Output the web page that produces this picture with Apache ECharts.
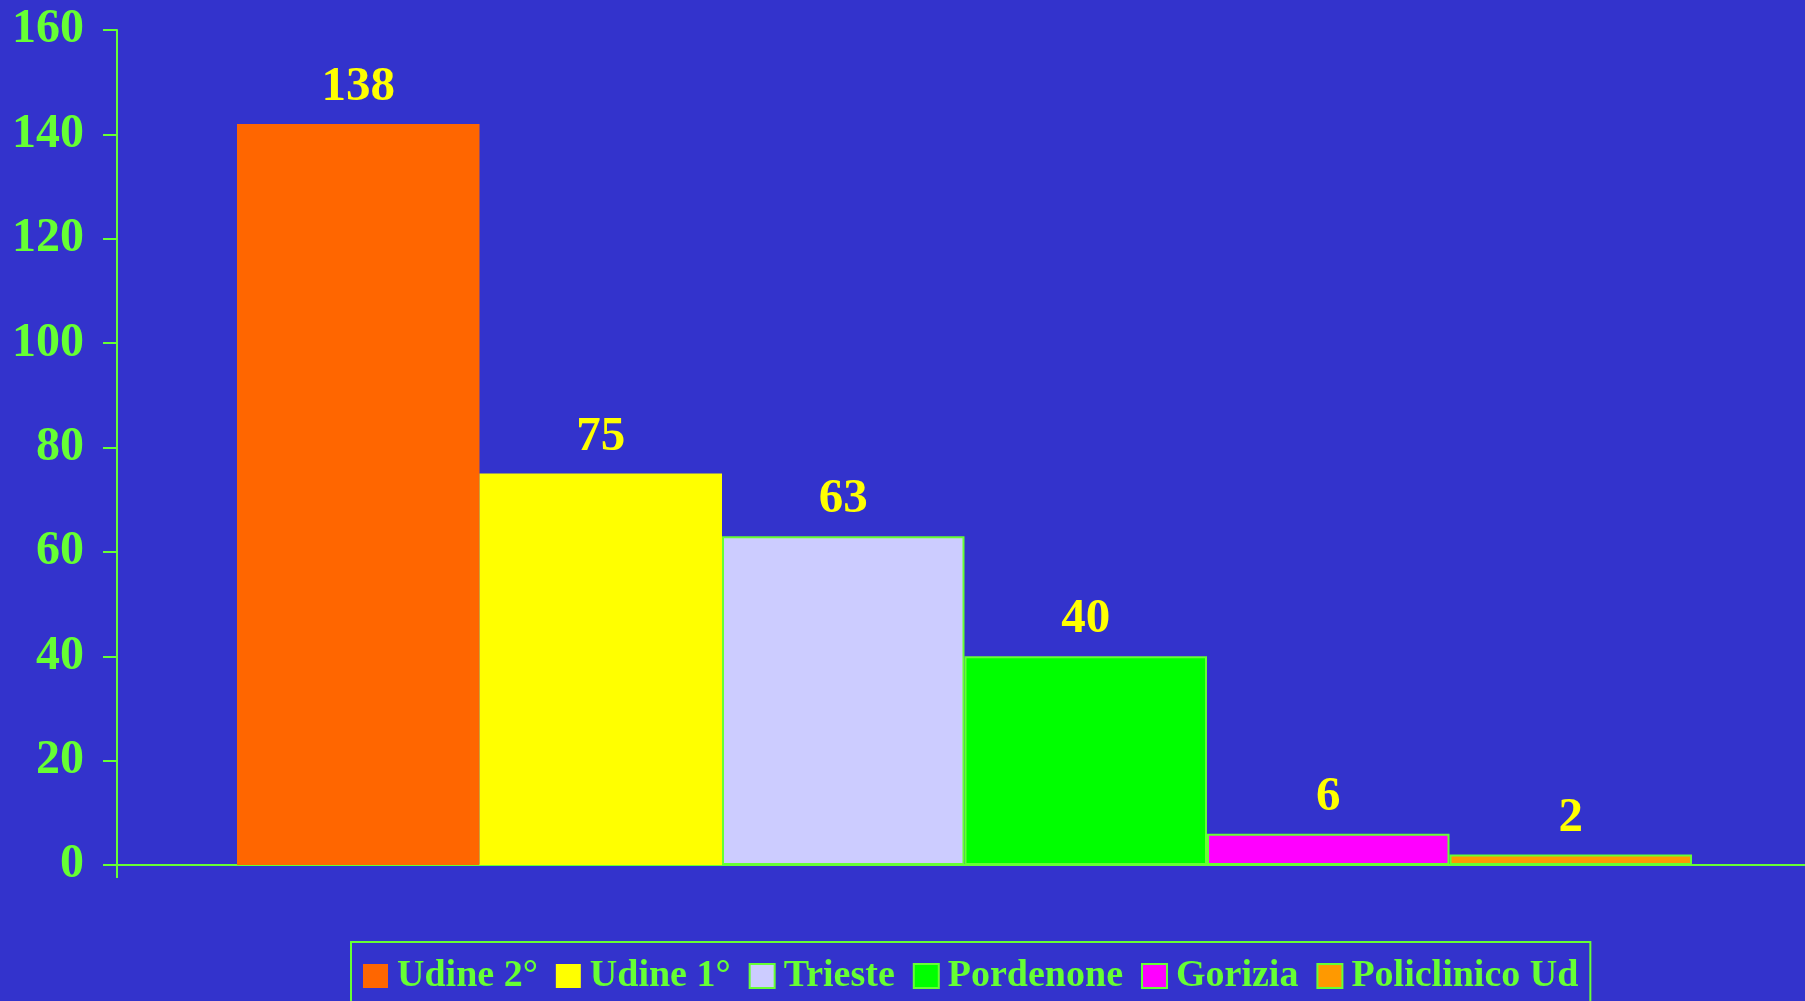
<!DOCTYPE html>
<html>
<head>
<meta charset="utf-8">
<script src="https://cdn.jsdelivr.net/npm/echarts@6/dist/echarts.min.js"></script>
<style>
html,body{margin:0;padding:0;background:#3333CC;overflow:hidden;width:1805px;height:1001px;}
#chart{width:1812px;height:1001px;}
</style>
</head>
<body>
<div id="chart"></div>
<script>
// Data
var seriesNames = ['Udine 2°', 'Udine 1°', 'Trieste', 'Pordenone', 'Gorizia', 'Policlinico Ud'];
var barValues = [142, 75, 63, 40, 6, 2];          // drawn bar heights
var barLabels = ['138', '75', '63', '40', '6', '2']; // printed value labels
var barColors = ['#FF6600', '#FFFF00', '#CCCCFF', '#00FF00', '#FF00FF', '#FF9900'];
var barBorders = [false, false, true, true, true, true];
var yMin = 0, yMax = 160, yStep = 20;

var GREEN = '#66FF33';
var FONT = "'Liberation Serif', 'Times New Roman', serif";

var series = seriesNames.map(function (name, i) {
  return {
    name: name,
    type: 'bar',
    data: [barValues[i]],
    barGap: '0%',
    barWidth: 242.5,
    itemStyle: {
      color: barColors[i],
      borderColor: barBorders[i] ? GREEN : barColors[i],
      borderWidth: barBorders[i] ? 2 : 0
    },
    label: {
      show: true,
      position: 'top',
      distance: 12,
      formatter: function () { return barLabels[i]; },
      color: '#FFFF00',
      fontFamily: FONT,
      fontWeight: 'bold',
      fontSize: 49
    },
    emphasis: { disabled: true }
  };
});

var chart = echarts.init(document.getElementById('chart'), null, { renderer: 'canvas' });
chart.setOption({
  backgroundColor: '#3333CC',
  animation: false,
  grid: { left: 117, right: 0, top: 30, bottom: 136, containLabel: false },
  legend: {
    left: 351,
    top: 942,
    padding: [15, 12, 7, 12],
    itemWidth: 25,
    itemHeight: 24,
    itemGap: 18,
    borderColor: GREEN,
    borderWidth: 2,
    icon: 'rect',
    data: seriesNames,
    textStyle: { color: GREEN, fontFamily: FONT, fontWeight: 'bold', fontSize: 38, padding: [0, 0, 0, 4] },
    selectedMode: false
  },
  xAxis: {
    type: 'category',
    data: [''],
    boundaryGap: true,
    axisLine: { show: true, lineStyle: { color: GREEN, width: 2 } },
    axisTick: { show: true, length: 13, lineStyle: { color: GREEN, width: 2 } },
    axisLabel: { show: false },
    splitLine: { show: false }
  },
  yAxis: {
    type: 'value',
    min: yMin,
    max: yMax,
    interval: yStep,
    axisLine: { show: true, lineStyle: { color: GREEN, width: 2 } },
    axisTick: { show: true, length: 14, lineStyle: { color: GREEN, width: 2 } },
    axisLabel: { color: GREEN, fontFamily: FONT, fontWeight: 'bold', fontSize: 48, margin: 33 },
    splitLine: { show: false }
  },
  series: series
});
</script>
</body>
</html>
